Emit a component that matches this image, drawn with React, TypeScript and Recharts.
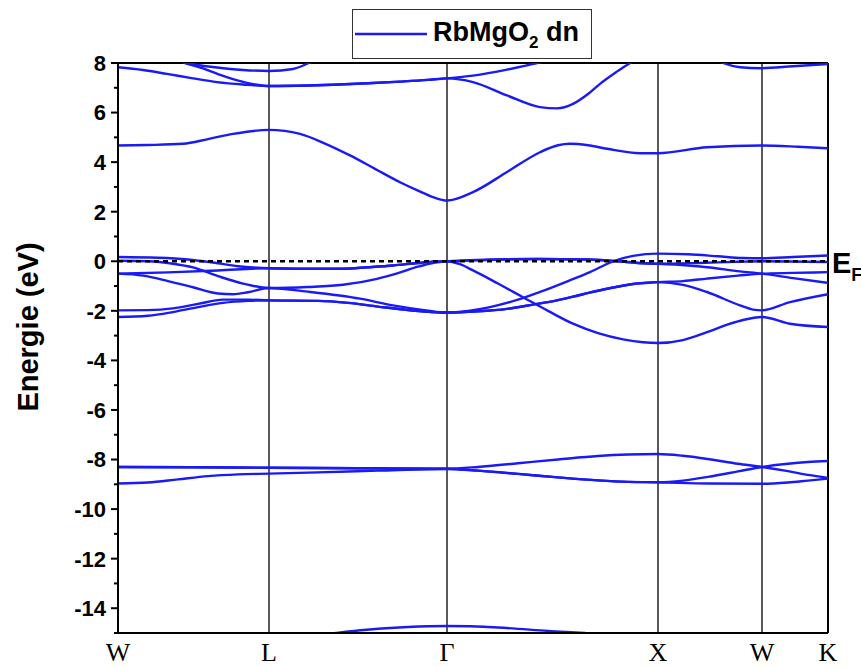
import React from 'react';
import { LineChart, Line, XAxis, YAxis, ReferenceLine } from 'recharts';

// k-path: high-symmetry points (distance along the path) and their labels
const kPoints = [0, 151, 329, 540, 644, 710];
const kLabels = ['W', 'L', 'Γ', 'X', 'W', 'K'];

const energyTicks = [-15, -14, -13, -12, -11, -10, -9, -8, -7, -6, -5, -4, -3, -2, -1, 0, 1, 2, 3, 4, 5, 6, 7, 8];

// bands, [k, E(eV)]
const core1 = [[0, -8.3], [75, -8.31], [151, -8.33], [240, -8.35], [329, -8.37], [360, -8.3], [400, -8.15], [440, -8.0], [480, -7.86], [510, -7.8], [540, -7.78], [565, -7.85], [590, -7.98], [620, -8.17], [644, -8.3], [670, -8.47], [690, -8.62], [710, -8.74]];
const core2 = [[0, -8.97], [30, -8.93], [60, -8.8], [90, -8.67], [120, -8.6], [151, -8.57], [200, -8.52], [260, -8.45], [329, -8.38], [360, -8.45], [400, -8.58], [440, -8.72], [480, -8.84], [510, -8.9], [540, -8.92], [565, -8.85], [590, -8.7], [620, -8.48], [644, -8.3], [670, -8.17], [690, -8.1], [710, -8.06]];
const core3 = [[0, -8.3], [75, -8.31], [151, -8.33], [240, -8.35], [329, -8.37], [360, -8.45], [400, -8.58], [440, -8.72], [480, -8.84], [510, -8.9], [540, -8.92], [590, -8.97], [644, -8.98], [670, -8.93], [690, -8.85], [710, -8.77]];
const deep = [[151, -15.6], [200, -15.1], [240, -14.9], [290, -14.76], [329, -14.72], [380, -14.78], [430, -14.92], [480, -15.05], [540, -15.4]];

const val1 = [[0, 0.17], [40, 0.14], [70, 0.07], [95, -0.05], [120, -0.2], [151, -0.28], [180, -0.3], [225, -0.3], [250, -0.24], [275, -0.17], [300, -0.07], [315, -0.02], [329, 0], [370, 0.06], [420, 0.09], [470, 0.07], [500, 0.0], [520, -0.07], [540, -0.1], [580, -0.07], [620, -0.02], [644, 0], [710, -0.03]];
const val2 = [[0, -0.5], [50, -0.45], [100, -0.37], [151, -0.28], [180, -0.3], [225, -0.3], [250, -0.24], [275, -0.17], [300, -0.07], [315, -0.02], [329, 0], [370, 0.06], [420, 0.09], [470, 0.07], [500, 0.0], [520, -0.07], [540, -0.1], [570, -0.17], [589, -0.24], [622, -0.41], [644, -0.5], [675, -0.68], [710, -0.87]];
const val3 = [[0, 0.02], [30, 0], [55, -0.1], [75, -0.25], [100, -0.6], [125, -0.9], [151, -1.08], [190, -1.04], [225, -0.95], [259, -0.71], [280, -0.48], [300, -0.22], [315, -0.07], [329, 0], [342, -0.12], [355, -0.37], [380, -0.9], [405, -1.45], [430, -2.0], [455, -2.52], [480, -2.9], [505, -3.15], [525, -3.27], [540, -3.3], [565, -3.18], [589, -2.86], [610, -2.55], [625, -2.37], [644, -2.25], [672, -2.52], [710, -2.65]];
const val4 = [[0, -0.5], [25, -0.58], [50, -0.8], [75, -1.05], [100, -1.3], [115, -1.33], [130, -1.25], [151, -1.08], [192, -1.24], [242, -1.51], [275, -1.78], [308, -1.98], [329, -2.07], [350, -2.0], [372, -1.85], [400, -1.55], [422, -1.24], [450, -0.8], [472, -0.44], [495, 0], [515, 0.22], [540, 0.31], [570, 0.28], [600, 0.2], [625, 0.13], [644, 0.12], [675, 0.17], [710, 0.23]];
const val5 = [[0, -1.98], [30, -1.97], [55, -1.9], [80, -1.72], [105, -1.55], [130, -1.55], [151, -1.58], [200, -1.6], [230, -1.68], [260, -1.83], [290, -1.97], [329, -2.07], [360, -2.02], [389, -1.92], [415, -1.75], [439, -1.58], [465, -1.33], [489, -1.11], [515, -0.92], [540, -0.84], [565, -0.8], [589, -0.7], [620, -0.58], [644, -0.5], [675, -0.47], [710, -0.44]];
const val6 = [[0, -2.25], [30, -2.2], [55, -2.05], [80, -1.85], [105, -1.68], [130, -1.6], [151, -1.58], [200, -1.6], [230, -1.68], [260, -1.83], [290, -1.97], [329, -2.07], [360, -2.02], [389, -1.92], [415, -1.75], [439, -1.58], [465, -1.33], [489, -1.11], [515, -0.92], [540, -0.84], [565, -0.95], [589, -1.24], [622, -1.78], [635, -1.95], [644, -1.98], [672, -1.65], [710, -1.33]];

const cond1 = [[0, 4.67], [30, 4.69], [65, 4.74], [90, 4.93], [115, 5.14], [151, 5.3], [182, 5.14], [207, 4.75], [232, 4.27], [257, 3.73], [282, 3.19], [300, 2.85], [315, 2.59], [329, 2.45], [355, 2.79], [389, 3.6], [422, 4.4], [440, 4.68], [452, 4.74], [470, 4.68], [489, 4.54], [522, 4.36], [540, 4.36], [589, 4.6], [643, 4.67], [680, 4.62], [710, 4.56]];
const cond2 = [[0, 7.83], [25, 7.72], [49, 7.56], [75, 7.38], [99, 7.23], [125, 7.13], [151, 7.07], [190, 7.09], [215, 7.12], [250, 7.18], [282, 7.25], [310, 7.32], [329, 7.38], [355, 7.49], [389, 7.73], [419, 8.0], [440, 8.2]];
const cond3 = [[55, 8.2], [67, 8.0], [85, 7.78], [100, 7.55], [115, 7.35], [130, 7.19], [151, 7.07], [190, 7.09], [215, 7.12], [250, 7.18], [282, 7.25], [310, 7.32], [329, 7.38], [355, 7.23], [389, 6.69], [422, 6.22], [439, 6.17], [455, 6.35], [470, 6.75], [482, 7.16], [497, 7.6], [512, 8.0], [525, 8.35]];
const cond4 = [[55, 8.2], [70, 8.0], [99, 7.82], [125, 7.72], [151, 7.68], [175, 7.76], [192, 8.02], [205, 8.25]];
const cond5 = [[590, 8.3], [605, 8.0], [622, 7.83], [643, 7.79], [675, 7.87], [710, 7.96]];

const bands = [core1, core2, core3, deep, val1, val2, val3, val4, val5, val6, cond1, cond2, cond3, cond4, cond5];

const BLUE = '#1a1af5';
const SANS = '"Liberation Sans", Arial, sans-serif';
const SERIF = '"Liberation Serif", "Times New Roman", serif';

const toPoints = (b: number[][]) => b.map(([k, e]) => ({ k, e }));

const EnergyTick = ({ x, y, payload }: any) => {
  const major = payload.value % 2 === 0;
  return (
    <g>
      <line x1={x - (major ? 7 : 4)} x2={x} y1={y} y2={y} stroke='#000' strokeWidth={2} />
      {major && (
        <text x={x - 12} y={y} dy='0.36em' textAnchor='end' fontFamily={SANS} fontWeight='bold' fontSize={22} fill='#000'>
          {payload.value}
        </text>
      )}
    </g>
  );
};

const KTick = ({ x, y, payload }: any) => (
  <text x={x} y={y + 28} textAnchor='middle' fontFamily={SERIF} fontSize={26} fill='#000'>
    {kLabels[kPoints.indexOf(payload.value)]}
  </text>
);

export default function App() {
  return (
    <div style={{ position: 'absolute', left: 0, top: 0, width: 861, height: 667, background: '#fff' }}>
      <LineChart width={861} height={667} margin={{ top: 63, right: 33, bottom: 0, left: 18 }}>
        <XAxis
          dataKey='k'
          type='number'
          domain={[0, 710]}
          ticks={kPoints}
          interval={0}
          tickSize={0}
          tickMargin={0}
          height={34}
          allowDataOverflow
          axisLine={{ stroke: '#000', strokeWidth: 2 }}
          tick={(p: any) => <KTick {...p} />}
        />
        <YAxis
          type='number'
          domain={[-15, 8]}
          ticks={energyTicks}
          interval={0}
          tickSize={0}
          tickMargin={0}
          width={100}
          allowDataOverflow
          axisLine={{ stroke: '#000', strokeWidth: 2 }}
          tick={(p: any) => <EnergyTick {...p} />}
        />
        {kPoints.slice(1, 5).map(k => (
          <ReferenceLine key={k} x={k} stroke='#000' strokeWidth={1.3} />
        ))}
        <ReferenceLine y={8} stroke='#000' strokeWidth={2} />
        <ReferenceLine x={710} stroke='#000' strokeWidth={2} />
        {bands.map((b, i) => (
          <Line
            key={i}
            data={toPoints(b)}
            dataKey='e'
            type='monotone'
            stroke={BLUE}
            strokeWidth={2.4}
            dot={false}
            activeDot={false}
            isAnimationActive={false}
          />
        ))}
        <ReferenceLine y={0} stroke='#000' strokeWidth={2.4} strokeDasharray='5 4' />
      </LineChart>

      <svg width={861} height={667} style={{ position: 'absolute', left: 0, top: 0, pointerEvents: 'none' }}>
        <text
          transform='translate(38 327) rotate(-90)'
          textAnchor='middle'
          fontFamily={SANS}
          fontWeight='bold'
          fontSize={29}
          fill='#000'
        >
          Energie (eV)
        </text>
        <text x={832} y={273} fontFamily={SANS} fontWeight='bold' fontSize={29} fill='#000'>
          E
          <tspan fontSize={18} dy={8}>F</tspan>
        </text>
      </svg>

      <div
        style={{
          position: 'absolute',
          left: 352,
          top: 9,
          width: 240,
          height: 50,
          boxSizing: 'border-box',
          border: '1.5px solid #333',
          background: '#fff',
          display: 'flex',
          alignItems: 'center',
        }}
      >
        <svg width={72} height={6} style={{ marginLeft: 2 }}>
          <line x1={0} y1={3} x2={72} y2={3} stroke={BLUE} strokeWidth={2.5} />
        </svg>
        <span style={{ fontFamily: SANS, fontWeight: 'bold', fontSize: 27, marginLeft: 6, lineHeight: '30px', whiteSpace: 'nowrap' }}>
          RbMgO<span style={{ fontSize: 17, position: 'relative', top: 7 }}>2</span> dn
        </span>
      </div>
    </div>
  );
}
